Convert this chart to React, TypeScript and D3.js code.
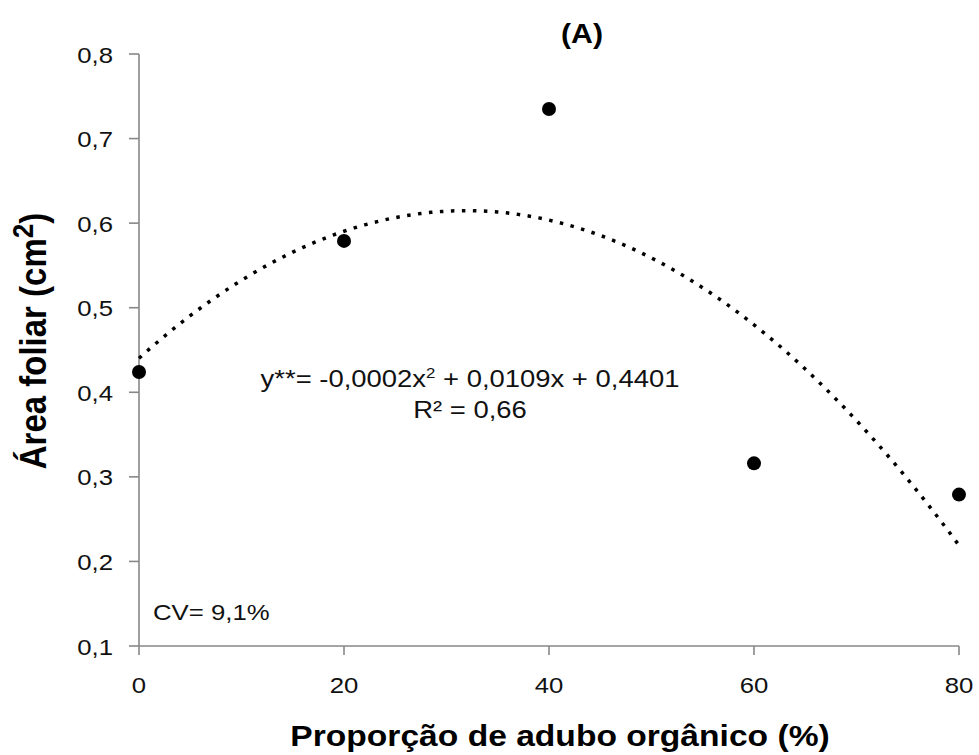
import React from "react";
import * as d3 from "d3";

// proporção de adubo orgânico (%) e área foliar (cm2)
const doses = [0, 20, 40, 60, 80];
const areaFoliar = [0.424, 0.579, 0.735, 0.316, 0.279];

const xTicks = [0, 20, 40, 60, 80];
const yTicks = [0.1, 0.2, 0.3, 0.4, 0.5, 0.6, 0.7, 0.8];

const W = 979;
const H = 755;
const SX = 1.12; // the original figure is stretched a little sideways
const FONT = "'Liberation Sans', Arial, sans-serif";
const AXIS = "#878787";

// least squares fit of y = a x^2 + b x + c (Excel polynomial trendline)
function fitQuadratic(xs: number[], ys: number[]) {
    const n = xs.length;
    let s1 = 0, s2 = 0, s3 = 0, s4 = 0, t0 = 0, t1 = 0, t2 = 0;
    xs.forEach((x, i) => {
        const y = ys[i];
        s1 += x; s2 += x * x; s3 += x ** 3; s4 += x ** 4;
        t0 += y; t1 += x * y; t2 += x * x * y;
    });
    // solve [[s4 s3 s2],[s3 s2 s1],[s2 s1 n]] [a b c] = [t2 t1 t0]
    const m = [
        [s4, s3, s2, t2],
        [s3, s2, s1, t1],
        [s2, s1, n, t0],
    ];
    for (let i = 0; i < 3; i++) {
        for (let k = i + 1; k < 3; k++) {
            const f = m[k][i] / m[i][i];
            for (let j = i; j < 4; j++) m[k][j] -= f * m[i][j];
        }
    }
    const c = m[2][3] / m[2][2];
    const b = (m[1][3] - m[1][2] * c) / m[1][1];
    const a = (m[0][3] - m[0][2] * c - m[0][1] * b) / m[0][0];
    return (x: number) => a * x * x + b * x + c;
}

const fmt = (v: number) => String(v.toFixed(1)).replace(".", ",");

export default function App() {
    const x = d3.scaleLinear().domain([0, 80]).range([139, 959]);
    const y = d3.scaleLinear().domain([0.1, 0.8]).range([646, 54]);

    const trend = fitQuadratic(doses, areaFoliar);
    const curveX = d3.range(0, 80.001, 0.5);
    const line = d3
        .line<number>()
        .x((d) => x(d))
        .y((d) => y(trend(d)));

    const st = (tx: number, ty: number) => `translate(${tx},${ty}) scale(${SX},1)`;

    return (
        <svg
            width={W}
            height={H}
            style={{ position: "absolute", left: 0, top: 0, background: "#fff" }}
            fontFamily={FONT}
        >
            {/* y axis */}
            <line x1={x(0)} x2={x(0)} y1={y(0.8)} y2={y(0.1)} stroke={AXIS} strokeWidth={1.6} />
            {yTicks.map((t) => (
                <g key={"y" + t}>
                    <line x1={x(0) - 10} x2={x(0)} y1={y(t)} y2={y(t)} stroke={AXIS} strokeWidth={1.6} />
                    <text transform={st(x(0) - 26, y(t) + 8.5)} textAnchor="end" fontSize={23} fill="#111">
                        {fmt(t)}
                    </text>
                </g>
            ))}

            {/* x axis */}
            <line x1={x(0)} x2={x(80)} y1={y(0.1)} y2={y(0.1)} stroke={AXIS} strokeWidth={1.6} />
            {xTicks.map((t) => (
                <g key={"x" + t}>
                    <line x1={x(t)} x2={x(t)} y1={y(0.1)} y2={y(0.1) + 9} stroke={AXIS} strokeWidth={1.6} />
                    <text transform={st(x(t), 693)} textAnchor="middle" fontSize={23} fill="#111">
                        {t}
                    </text>
                </g>
            ))}

            {/* trendline */}
            <path
                d={line(curveX) || ""}
                fill="none"
                stroke="#000"
                strokeWidth={3.5}
                strokeDasharray="3.5 7.5"
            />

            {/* observed values */}
            {doses.map((d, i) => (
                <circle key={d} cx={x(d)} cy={y(areaFoliar[i])} r={7} fill="#000" />
            ))}

            {/* labels */}
            <text transform={st(582, 43)} textAnchor="middle" fontSize={27} fontWeight="bold" fill="#000">
                (A)
            </text>
            <text transform={st(470, 387)} textAnchor="middle" fontSize={24.5} fill="#111">
                y**= -0,0002x
                <tspan fontSize={15} dy={-9}>2</tspan>
                <tspan dy={9}> + 0,0109x + 0,4401</tspan>
            </text>
            <text transform={st(470, 418)} textAnchor="middle" fontSize={24.5} fill="#111">
                R² = 0,66
            </text>
            <text transform={st(153, 620)} fontSize={23} fill="#111">
                CV= 9,1%
            </text>
            <text transform={st(560, 746)} textAnchor="middle" fontSize={30} fontWeight="bold" fill="#000">
                Proporção de adubo orgânico (%)
            </text>
            <text
                transform={`translate(46,341) scale(${SX},1) rotate(-90)`}
                textAnchor="middle"
                fontSize={33}
                fontWeight="bold"
                fill="#000"
            >
                Área foliar (cm
                <tspan fontSize={26} dy={-12}>2</tspan>
                <tspan dy={12}>)</tspan>
            </text>
        </svg>
    );
}
